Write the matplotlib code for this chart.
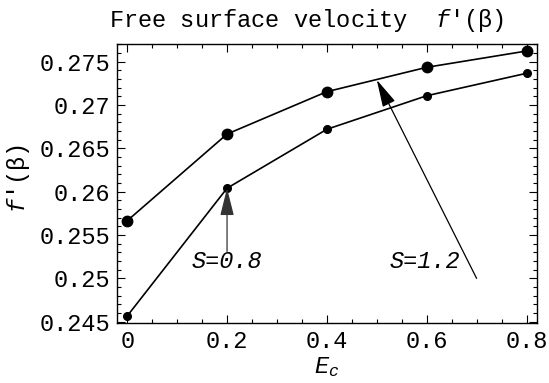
import matplotlib
matplotlib.use("Agg")
import matplotlib.pyplot as plt
from matplotlib.ticker import MultipleLocator, FixedLocator

plt.rcParams['font.family'] = ['Liberation Mono', 'DejaVu Sans']
plt.rcParams['mathtext.fontset'] = 'custom'
plt.rcParams['mathtext.rm'] = 'Liberation Mono'
plt.rcParams['mathtext.it'] = 'Liberation Mono:italic'

# Eckert number values and free surface velocity for two S values
ec = [0.0, 0.2, 0.4, 0.6, 0.8]
fp_s12 = [0.25665, 0.26665, 0.27154, 0.27435, 0.27623]
fp_s08 = [0.24566, 0.26040, 0.26720, 0.27107, 0.27366]

xticks = [0, 0.2, 0.4, 0.6, 0.8]
xticklabels = ["0", "0.2", "0.4", "0.6", "0.8"]
yticks = [0.245, 0.25, 0.255, 0.26, 0.265, 0.27, 0.275]
yticklabels = ["0.245", "0.25", "0.255", "0.26", "0.265", "0.27", "0.275"]

W, H = 549, 383
fig = plt.figure(figsize=(W / 100, H / 100), dpi=100)
left, right, top, bottom = 117, 537, 44, 323
ax = fig.add_axes([left / W, 1 - bottom / H, (right - left) / W, (bottom - top) / H])

ax.plot(ec, fp_s12, '-', color='black', lw=1.2, marker='o', ms=7.5, zorder=3)
ax.plot(ec, fp_s08, '-', color='black', lw=1.2, marker='o', ms=5.5, zorder=3)

ax.set_xlim(-0.0205, 0.821)
ax.set_ylim(0.24485, 0.27704)

ax.xaxis.set_major_locator(FixedLocator(xticks))
ax.set_xticklabels(xticklabels)
ax.yaxis.set_major_locator(FixedLocator(yticks))
ax.set_yticklabels(yticklabels)
ax.xaxis.set_minor_locator(MultipleLocator(0.05))
ax.yaxis.set_minor_locator(MultipleLocator(0.001))
ax.tick_params(which='both', direction='in', top=True, right=True, width=0.8)
ax.tick_params(which='major', length=6, labelsize=17, pad=5)
ax.tick_params(which='minor', length=3)
for sp in ax.spines.values():
    sp.set_linewidth(1.0)

# annotations with arrows
arrow_style = '-|>,head_length=1.0,head_width=0.25'
ax.annotate("", xy=(0.2, 0.2604), xytext=(0.2, 0.2531),
            arrowprops=dict(arrowstyle=arrow_style, color='#333333', lw=0.9,
                            mutation_scale=17, shrinkA=0, shrinkB=0))
ax.text(0.2, 0.2519, "S=0.8", style='italic', fontsize=17,
        ha='center', va='center')
ax.annotate("", xy=(0.5, 0.2729), xytext=(0.7, 0.2500),
            arrowprops=dict(arrowstyle=arrow_style, color='black', lw=0.9,
                            mutation_scale=17, shrinkA=0, shrinkB=0))
ax.text(0.597, 0.2519, "S=1.2", style='italic', fontsize=17,
        ha='center', va='center')

fig.text(307 / W, 1 - 21 / H, r"Free surface velocity  $f$'(β)",
         fontsize=17, ha='center', va='center')
fig.text(18 / W, 1 - 178 / H, r"$f$'(β)", fontsize=17, rotation=90,
         ha='center', va='center')
fig.text(327 / W, 1 - 367 / H, r"$E_c$", fontsize=17, ha='center', va='center')

fig.savefig("out.png", dpi=100)
